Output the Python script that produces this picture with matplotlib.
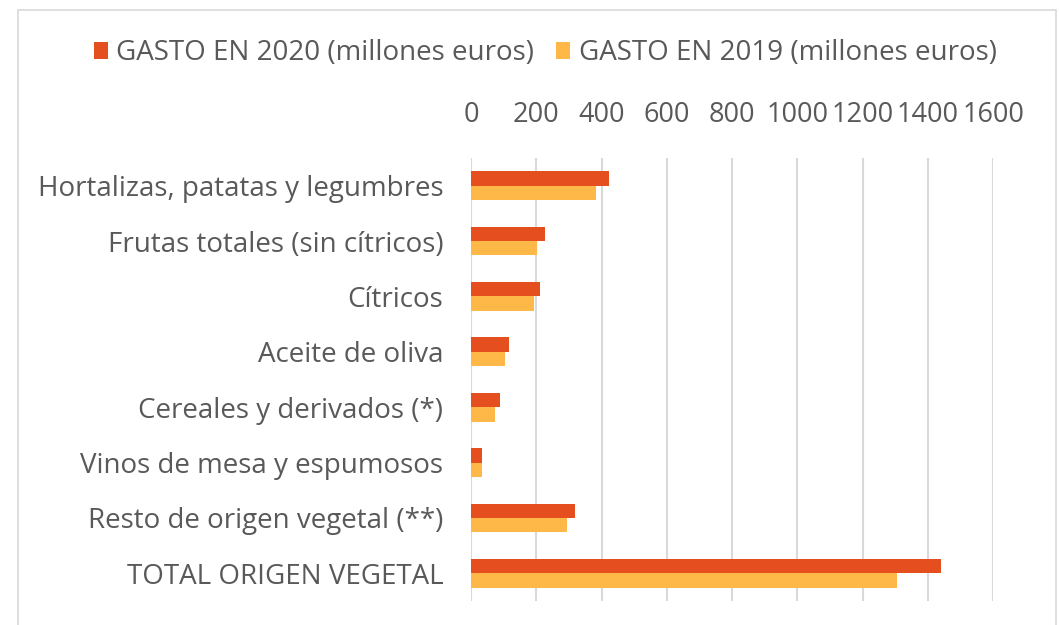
import numpy as np
import matplotlib.pyplot as plt
from matplotlib.patches import Rectangle

plt.rcParams['font.family'] = ['Open Sans', 'DejaVu Sans']

categories = ['Hortalizas, patatas y legumbres', 'Frutas totales (sin cítricos)',
              'Cítricos', 'Aceite de oliva', 'Cereales y derivados (*)',
              'Vinos de mesa y espumosos', 'Resto de origen vegetal (**)',
              'TOTAL ORIGEN VEGETAL']
gasto_2020 = [424, 228, 211, 116, 89, 33, 320, 1441]
gasto_2019 = [382, 203, 192, 105, 74, 33, 295, 1307]
xticks = [0, 200, 400, 600, 800, 1000, 1200, 1400, 1600]

col_2020 = '#E54E1F'
col_2019 = '#FDB847'
text_col = '#595959'

fig = plt.figure(figsize=(10.59, 6.25), dpi=100)
ax = fig.add_axes([0.4448, 0.0384, 0.4929, 0.7088])

# outer chart border
fig.patches.append(Rectangle((18 / 1059, -0.1), 1038 / 1059, 1.1 - 10 / 625,
                             transform=fig.transFigure, fill=False,
                             edgecolor='#d9d9d9', linewidth=1.2))

y = np.arange(len(categories))
h = 0.26
ax.barh(y - h / 2, gasto_2020, h, color=col_2020, label='GASTO EN 2020 (millones euros)', zorder=3)
ax.barh(y + h / 2, gasto_2019, h, color=col_2019, label='GASTO EN 2019 (millones euros)', zorder=3)

ax.set_ylim(len(categories) - 0.5, -0.5)
ax.set_xlim(0, 1600)
ax.set_xticks(xticks)
ax.set_xticklabels([str(t) for t in xticks])
ax.set_yticks(y)
ax.set_yticklabels(categories)
ax.xaxis.tick_top()
ax.tick_params(axis='x', length=0, labelsize=19.5, colors=text_col, pad=21)
ax.tick_params(axis='y', length=0, labelsize=20, colors=text_col, pad=20)
ax.grid(axis='x', color='#d9d9d9', linewidth=1.5, zorder=0)
for s in ax.spines.values():
    s.set_visible(False)

fig.legend(loc='center', bbox_to_anchor=(0.515, 0.915), ncol=2, frameon=False,
           fontsize=20, labelcolor=text_col, handlelength=0.5, handleheight=0.6,
           handletextpad=0.3, columnspacing=0.8)

fig.savefig('out.png', dpi=100)
